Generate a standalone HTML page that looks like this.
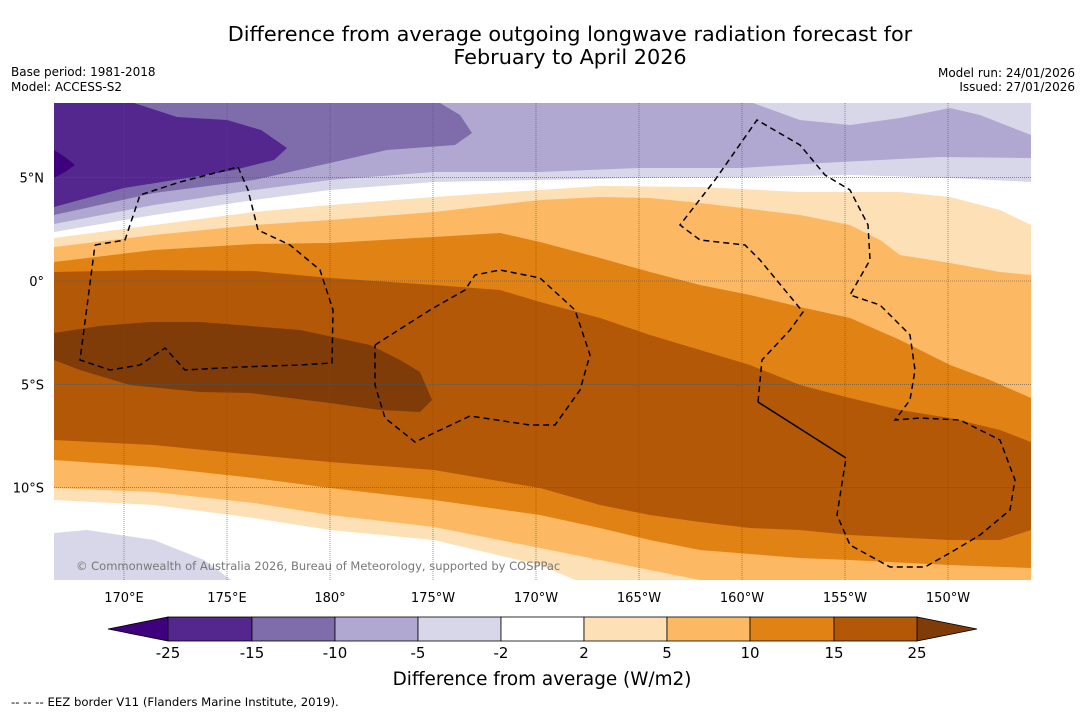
<!DOCTYPE html>
<html><head><meta charset="utf-8"><style>
body{margin:0;background:#fff;width:1085px;height:713px;overflow:hidden;font-family:"Liberation Sans","DejaVu Sans",sans-serif}
</style></head><body>
<svg id="s" width="1085" height="713" xmlns="http://www.w3.org/2000/svg" font-family="DejaVu Sans, Liberation Sans, sans-serif">
<text x="570" y="41" font-size="20.8" text-anchor="middle">Difference from average outgoing longwave radiation forecast for</text>
<text x="570" y="64" font-size="20.8" text-anchor="middle">February to April 2026</text>
<text x="11" y="76" font-size="12">Base period: 1981-2018</text>
<text x="11" y="91" font-size="12">Model: ACCESS-S2</text>
<text x="1075" y="77" font-size="12" text-anchor="end">Model run: 24/01/2026</text>
<text x="1075" y="91" font-size="12" text-anchor="end">Issued: 27/01/2026</text>
<defs><clipPath id="mc"><rect x="54" y="103" width="977" height="477"/></clipPath></defs>
<g id="map" clip-path="url(#mc)"></g>
<g id="axes"></g>
<g id="cb"></g>
<text x="542" y="685" font-size="18.4" text-anchor="middle">Difference from average (W/m2)</text>
<text x="11" y="706" font-size="11.7">--  --  -- EEZ border V11 (Flanders Marine Institute, 2019).</text>
</svg>
<script>
const NS="http://www.w3.org/2000/svg";
const lonTicks=["170°E","175°E","180°","175°W","170°W","165°W","160°W","155°W","150°W"];
const lonVals=[170,175,180,185,190,195,200,205,210];
const latTicks=["5°N","0°","5°S","10°S"];
const latVals=[5,0,-5,-10];
const levels=["-25","-15","-10","-5","-2","2","5","10","15","25"];
const colors=["#54278f","#7f6dab","#b0a8d0","#d8d7ea","#ffffff","#fee0b6","#fdb863","#e08214","#b35806"];
const xL=lon=>124+(lon-170)*20.6;
const yL=lat=>281-lat*20.66;
// contour boundaries (pixel traced)
const darkPurple=[[54,103],[134,103],[177,117],[227,120],[261,130],[287,148],[274,160],[234,170],[187,178],[124,188],[87,198],[54,207]];
const extreme=[[54,150],[65,157],[75,165],[65,172],[54,178]];
const midPurple=[[54,103],[440,103],[460,115],[472,133],[455,145],[387,150],[330,163],[254,180],[154,193],[54,215]];
const topRightLav=[[753,103],[1031,103],[1031,135],[980,115],[950,108],[900,118],[850,125],[800,120]];
const bLav=[[54,224],[154,205],[254,190],[330,180],[434,172],[540,172],[640,168],[740,168],[840,162],[940,157],[1031,158]];
const bWhite=[[54,232],[154,215],[254,200],[330,190],[434,182],[540,180],[640,178],[750,177],[850,175],[950,178],[1031,182]];
const bPeach=[[54,238],[154,225],[254,212],[330,205],[434,197],[540,190],[600,186],[700,187],[800,192],[900,192],[950,197],[1000,210],[1031,225]];
const bOrL=[[54,247],[154,235],[254,225],[330,220],[434,212],[540,200],[600,197],[650,198],[700,203],[800,215],[850,225],[880,240],[900,255],[950,263],[1000,272],[1031,275]];
const bOr=[[54,262],[154,250],[254,244],[330,243],[434,237],[500,233],[540,242],[600,258],[650,272],[700,285],[750,295],[800,307],[850,318],[900,340],[950,365],[990,380],[1031,398]];
const bDark=[[54,272],[150,270],[254,271],[330,278],[434,285],[500,290],[540,302],[600,318],[650,335],[700,350],[750,365],[800,385],[850,398],[900,410],[950,418],[1000,430],[1031,442]];
const lOr=[[54,440],[154,445],[254,455],[330,462],[434,470],[540,488],[600,505],[650,515],[700,522],[750,528],[800,530],[850,535],[950,540],[1000,540],[1031,530]];
const lOrL=[[54,460],[154,467],[254,478],[330,488],[434,500],[540,515],[600,528],[650,540],[700,550],[800,558],[850,560],[950,565],[1031,568]];
const lPeach=[[54,488],[154,492],[254,503],[330,515],[434,527],[540,548],[600,560],[650,570],[700,580],[1031,582]];
const lWhite=[[54,500],[154,505],[254,518],[330,530],[434,540],[540,565],[580,582]];
const lLav=[[54,533],[87,530],[154,540],[204,560],[234,582]];
const blob=[[54,333],[100,326],[150,322],[200,322],[300,330],[370,345],[400,360],[420,372],[432,400],[420,412],[380,410],[330,403],[250,393],[200,392],[130,385],[80,370],[54,360]];
const eez1=[[95,245],[125,240],[140,195],[180,182],[238,167],[248,190],[258,230],[290,245],[320,270],[333,310],[332,363],[300,365],[240,367],[185,370],[165,348],[140,365],[110,370],[80,360],[95,245]];
const eez2=[[375,345],[430,310],[465,290],[475,275],[500,270],[540,278],[575,310],[590,355],[580,390],[555,425],[530,425],[470,416],[415,442],[385,418],[375,385],[375,345]];
const eez3=[[758,402],[762,360],[790,330],[803,312],[760,260],[745,245],[700,240],[680,225],[715,180],[757,120],[800,145],[825,175],[850,190],[868,225],[870,260],[850,295],[880,305],[910,335],[915,370],[910,400],[895,420],[920,418],[960,420],[1000,440],[1015,480],[1010,510],[980,535],[955,550],[925,567],[890,567],[850,545],[837,515],[846,458]];
const eezSolid=[[846,458],[758,402]];
const map=document.getElementById('map');
function poly(pts,fill,name){const p=document.createElementNS(NS,'polygon');p.setAttribute('points',pts.map(q=>q.join(',')).join(' '));p.setAttribute('fill',fill);


map.appendChild(p);}
function below(c){return c.concat([[c[c.length-1][0],600],[54,600]]).concat([[40,c[0][1]]]);}
function belowR(c){return c.concat([[1040,c[c.length-1][1]],[1040,600],[40,600],[40,c[0][1]]]);}
poly([[54,103],[1031,103],[1031,580],[54,580]],"#b0a8d0","band-light-purple");
poly(topRightLav,"#d8d7ea","band-lavender-top");
poly(midPurple,"#7f6dab","band-mid-purple");
poly(darkPurple,"#54278f","band-dark-purple");
poly(extreme,"#3f007d","band-extreme-purple");
poly(belowR(bLav),"#d8d7ea","band-lavender");
poly(belowR(bWhite),"#ffffff","band-white");
poly(belowR(bPeach),"#fee0b6","band-peach");
poly(belowR(bOrL),"#fdb863","band-light-orange");
poly(belowR(bOr),"#e08214","band-orange");
poly(belowR(bDark),"#b35806","band-dark-orange");
poly(belowR(lOr),"#e08214","band-orange-south");
poly(belowR(lOrL),"#fdb863","band-light-orange-south");
poly(belowR(lPeach),"#fee0b6","band-peach-south");
poly(below(lWhite),"#ffffff","band-white-south");
poly(below(lLav),"#d8d7ea","band-lavender-south");
poly(blob,"#7f3b08","band-brown-core");
// grid
lonVals.forEach((v,i)=>{const l=document.createElementNS(NS,'line');l.setAttribute('x1',xL(v));l.setAttribute('x2',xL(v));l.setAttribute('y1',103);l.setAttribute('y2',580);l.setAttribute('stroke','#555');l.setAttribute('stroke-width','0.6');l.setAttribute('stroke-dasharray','1 1');


map.appendChild(l);
const t=document.createElementNS(NS,'text');t.setAttribute('x',xL(v));t.setAttribute('y',602);t.setAttribute('font-size','13');t.setAttribute('text-anchor','middle');t.textContent=lonTicks[i];


document.getElementById('axes').appendChild(t);});
latVals.forEach((v,i)=>{const l=document.createElementNS(NS,'line');l.setAttribute('x1',54);l.setAttribute('x2',1031);l.setAttribute('y1',yL(v));l.setAttribute('y2',yL(v));l.setAttribute('stroke','#555');l.setAttribute('stroke-width','0.6');l.setAttribute('stroke-dasharray','1 1');


map.appendChild(l);
const t=document.createElementNS(NS,'text');t.setAttribute('x',44);t.setAttribute('y',yL(v)+5);t.setAttribute('font-size','13');t.setAttribute('text-anchor','end');t.textContent=latTicks[i];


document.getElementById('axes').appendChild(t);});
[eez1,eez2,eez3,eezSolid].forEach((e,k)=>{const p=document.createElementNS(NS,'polyline');p.setAttribute('points',e.map(q=>q.join(',')).join(' '));p.setAttribute('fill','none');p.setAttribute('stroke','#000');p.setAttribute('stroke-width','1.5');if(k<3)p.setAttribute('stroke-dasharray','6 4');


map.appendChild(p);});
const cr=document.createElementNS(NS,'text');cr.setAttribute('x',76);cr.setAttribute('y',570);cr.setAttribute('font-size','11.5');cr.setAttribute('fill','#777');cr.textContent="© Commonwealth of Australia 2026, Bureau of Meteorology, supported by COSPPac";


map.appendChild(cr);
// colorbar
const cb=document.getElementById('cb');
const cbX=[168,252,335,418,501,584,667,750,834,917];
function add(tag,attrs,name){const e=document.createElementNS(NS,tag);for(const k in attrs)e.setAttribute(k,attrs[k]);


cb.appendChild(e);return e;}
add('polygon',{points:"108,629 168,617 168,641",fill:"#3f007d",stroke:"#000","stroke-width":"0.8"},'colorbar-min-extension');
add('polygon',{points:"977,629 917,617 917,641",fill:"#7f3b08",stroke:"#000","stroke-width":"0.8"},'colorbar-max-extension');
colors.forEach((c,i)=>add('rect',{x:cbX[i],y:617,width:cbX[i+1]-cbX[i],height:24,fill:c,stroke:"#000","stroke-width":"0.8"},'colorbar-segment'));
levels.forEach((l,i)=>{const t=add('text',{x:cbX[i],y:658,"font-size":"15","text-anchor":"middle"},'colorbar-tick-label');t.textContent=l;});
</script>
</body></html>
